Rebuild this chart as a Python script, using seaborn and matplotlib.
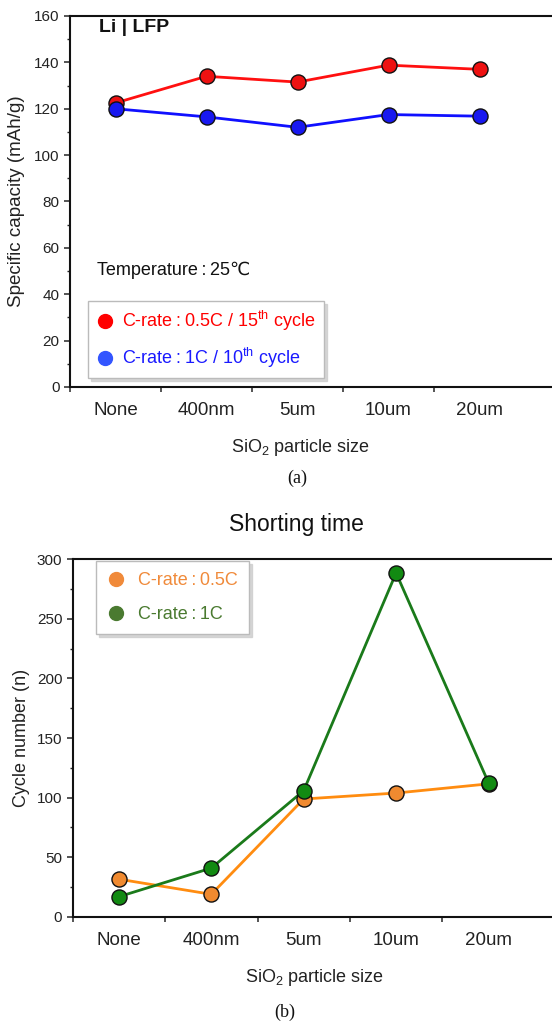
import numpy as np
import pandas as pd
import matplotlib
matplotlib.use("Agg")
import matplotlib.pyplot as plt
from matplotlib.lines import Line2D
from matplotlib.ticker import MultipleLocator, FixedLocator, NullFormatter
import seaborn as sns

# ---- data ----
sizes = ["None", "400nm", "5um", "10um", "20um"]

capacity_05c = [122.5, 134.0, 131.5, 138.8, 137.0]
capacity_1c = [120.0, 116.5, 112.0, 117.5, 116.8]

shorting_05c = [31.5, 18.8, 98.8, 103.8, 111.5]
shorting_1c = [16.8, 40.8, 105.8, 288.5, 112.5]

TS = "\u2009"  # thin space around the colons
cap_labels = [f"C-rate{TS}:{TS}0.5C / 15$^{{\\mathrm{{th}}}}$ cycle",
              f"C-rate{TS}:{TS}1C / 10$^{{\\mathrm{{th}}}}$ cycle"]
short_labels = [f"C-rate{TS}:{TS}0.5C", f"C-rate{TS}:{TS}1C"]

# ---- style ----
sns.set_style("ticks")
plt.rcParams["font.family"] = ["Liberation Sans", "DejaVu Sans"]
plt.rcParams["mathtext.fontset"] = "custom"
plt.rcParams["mathtext.rm"] = "Liberation Sans"
plt.rcParams["mathtext.it"] = "Liberation Sans:italic"
plt.rcParams["mathtext.bf"] = "Liberation Sans:bold"

fig = plt.figure(figsize=(5.52, 10.30), dpi=100)
W, H = 552, 1030


def frame(ax, n, xmax, ymax, major, minor):
    pos = np.arange(n)
    ax.set_xlim(-0.5, xmax)
    ax.set_ylim(0, ymax)
    # ticks sit on the boundaries between categories
    ax.xaxis.set_major_locator(FixedLocator(np.arange(n) - 0.5))
    ax.xaxis.set_major_formatter(NullFormatter())
    ax.set_xticks(pos, minor=True)
    ax.set_xticklabels(sizes, minor=True, fontsize=13.5, color="#222222")
    ax.tick_params(axis="x", which="minor", length=0, pad=11)
    ax.tick_params(axis="x", which="major", length=3.5, width=1.1, direction="out")
    ax.yaxis.set_major_locator(MultipleLocator(major))
    ax.yaxis.set_minor_locator(MultipleLocator(minor))
    ax.tick_params(axis="y", which="major", length=4, width=1.1, labelsize=11,
                   labelcolor="#222222", direction="out")
    ax.tick_params(axis="y", which="minor", length=2.5, width=1.0, direction="out")
    for s in ("left", "bottom", "top"):
        ax.spines[s].set_visible(True)
        ax.spines[s].set_linewidth(1.5)
        ax.spines[s].set_color("#111111")
    ax.spines["right"].set_visible(False)
    ax.set_xlabel("")


def draw(ax, values, names, line_colors, marker_colors):
    df = pd.DataFrame({
        "pos": np.tile(np.arange(len(sizes)), len(values)),
        "value": np.concatenate(values),
        "series": np.repeat(names, len(sizes)),
    })
    sns.lineplot(data=df, x="pos", y="value", hue="series",
                 palette=dict(zip(names, line_colors)), linewidth=2.0,
                 legend=False, ax=ax, zorder=2)
    for vals, mc in zip(values, marker_colors):
        sns.scatterplot(x=np.arange(len(sizes)), y=vals, color=mc, s=118,
                        edgecolor="#111111", linewidth=1.0, ax=ax, zorder=3,
                        legend=False)


legend_kw = dict(fontsize=13, frameon=True, fancybox=False, edgecolor="#bbbbbb",
                 borderaxespad=0.0, handlelength=1.0,
                 shadow={"color": "#cccccc", "alpha": 0.8, "ox": 2, "oy": -2})

# ---- (a) specific capacity ----
ax1 = fig.add_axes([70 / W, 1 - 387 / H, 1 - 70 / W, (387 - 16) / H])
draw(ax1, [capacity_05c, capacity_1c], cap_labels,
     ["#ff1010", "#1010ff"], ["#ee1111", "#1818f0"])
frame(ax1, len(sizes), -0.5 + (W - 70) / 91.0, 160, 20, 10)
ax1.set_ylabel("Specific capacity (mAh/g)", fontsize=13.5, color="#222222")
ax1.yaxis.set_label_coords(-0.093, 0.5)

ax1.text(0.06, 0.968, "Li | LFP", transform=ax1.transAxes, fontsize=14,
         fontweight="bold", va="center", ha="left", color="#111111")
ax1.text(0.056, 0.315, f"Temperature{TS}:{TS}25\u2103", transform=ax1.transAxes,
         fontsize=13, va="center", ha="left", color="#111111",
         family=["Liberation Sans", "DejaVu Sans"])

h1 = [Line2D([], [], ls="none", marker="o", ms=10, mfc=c, mec=c)
      for c in ["#ff0000", "#3355ff"]]
leg1 = ax1.legend(h1, cap_labels, loc="lower left",
                  bbox_to_anchor=(18 / 482, 9 / 371), handletextpad=0.45,
                  borderpad=0.45, labelspacing=0.7, **legend_kw)
for t, c in zip(leg1.get_texts(), ["#ff0000", "#1a1aff"]):
    t.set_color(c)

fig.text(300 / W, 1 - 448 / H, "SiO$_2$ particle size", fontsize=13,
         ha="center", va="center", color="#222222")
fig.text(297 / W, 1 - 478 / H, "(a)", fontsize=13, ha="center", va="center",
         family="Liberation Serif", color="#111111")

# ---- (b) shorting time ----
ax2 = fig.add_axes([72.7 / W, 1 - 916.7 / H, 1 - 72.7 / W, (916.7 - 559.3) / H])
draw(ax2, [shorting_05c, shorting_1c], short_labels,
     ["#ff8c10", "#1a7a1a"], ["#f08a30", "#128a12"])
frame(ax2, len(sizes), -0.5 + (W - 72.7) / 92.4, 300, 50, 25)
ax2.set_ylabel("Cycle number (n)", fontsize=13, color="#222222")
ax2.yaxis.set_label_coords(-0.089, 0.5)

h2 = [Line2D([], [], ls="none", marker="o", ms=10, mfc=c, mec=c)
      for c in ["#f08a3a", "#4a7a30"]]
leg2 = ax2.legend(h2, short_labels, loc="upper left",
                  bbox_to_anchor=(23.3 / 479.3, 1 - 1.7 / 357.4),
                  handletextpad=0.75, borderpad=0.6, labelspacing=0.95,
                  **legend_kw)
for t, c in zip(leg2.get_texts(), ["#f08a3a", "#4a7a30"]):
    t.set_color(c)

fig.text(296 / W, 1 - 525 / H, "Shorting time", fontsize=16.5, ha="center",
         va="center", color="#111111")
fig.text(314 / W, 1 - 978 / H, "SiO$_2$ particle size", fontsize=13,
         ha="center", va="center", color="#222222")
fig.text(285 / W, 1 - 1012 / H, "(b)", fontsize=13, ha="center", va="center",
         family="Liberation Serif", color="#111111")

fig.savefig("out.png", dpi=100)
